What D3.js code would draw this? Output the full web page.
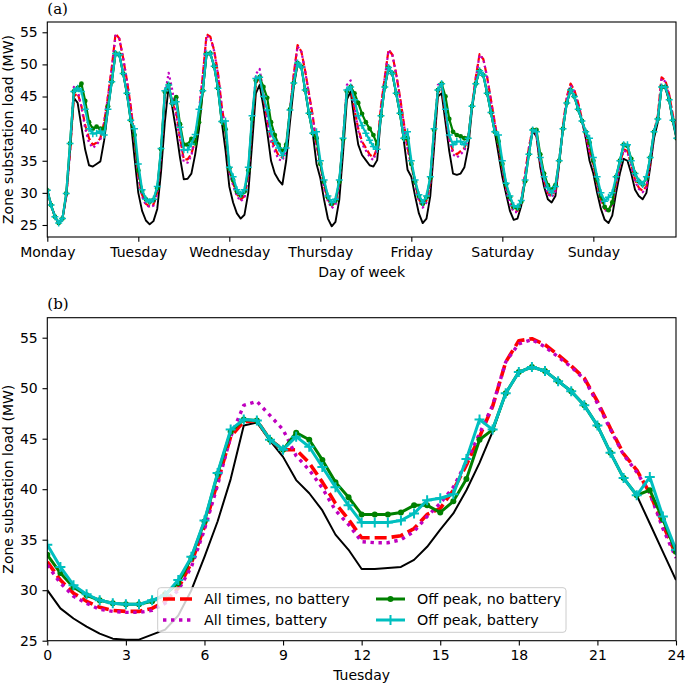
<!DOCTYPE html>
<html>
<head>
<meta charset="utf-8">
<script src="https://cdn.jsdelivr.net/npm/d3@7/dist/d3.min.js"></script>
<style>
  body { margin: 0; background: #fff; }
  svg { display: block; font-family: "DejaVu Sans", sans-serif; }
</style>
</head>
<body>
<div class="canvas"></div>
<script>
// Panel (a): hourly load over the week, Monday 00:00 onwards (MW)
const baseWeek = [
  30.4, 28.1, 26.3, 25.3, 26.0, 29.5, 36.5, 44.8, 44.0, 40.3, 36.7, 34.3, 34.1, 34.5, 34.9, 38.2, 42.9, 47.3, 51.7, 51.5, 48.6, 45.5, 41.3, 35.5,
  30.0, 27.2, 25.7, 25.1, 25.6, 27.5, 33.3, 41.0, 46.6, 43.2, 39.6, 35.5, 32.1, 32.2, 33.0, 36.0, 39.9, 45.7, 51.6, 51.7, 49.7, 46.3, 41.1, 36.6,
  31.0, 28.5, 26.8, 26.0, 26.6, 30.0, 37.5, 45.5, 46.8, 43.4, 39.5, 35.0, 33.0, 32.0, 31.3, 35.0, 41.0, 46.5, 50.0, 49.6, 46.0, 42.4, 39.3, 34.5,
  32.3, 28.9, 26.0, 24.8, 25.5, 28.9, 36.2, 44.5, 45.8, 41.3, 37.5, 35.9, 35.1, 34.3, 34.1, 35.1, 41.9, 46.5, 49.4, 48.4, 45.5, 42.4, 38.2, 33.6,
  32.5, 29.5, 26.8, 25.3, 26.0, 29.5, 37.0, 45.0, 45.5, 41.0, 36.5, 33.0, 32.8, 33.0, 34.0, 37.0, 43.0, 47.0, 49.0, 48.3, 45.5, 42.5, 39.5, 36.0,
  32.5, 29.8, 27.2, 25.8, 26.0, 28.0, 32.0, 36.5, 39.6, 38.8, 34.0, 31.0, 29.0, 28.5, 29.5, 34.5, 40.0, 44.0, 46.0, 45.0, 43.0, 41.2, 38.5, 35.0,
  33.0, 30.0, 27.5, 25.8, 25.3, 26.5, 30.0, 33.0, 35.3, 35.0, 33.0, 30.5, 29.5, 29.0, 30.0, 34.0, 38.5, 41.0, 46.5, 46.3, 44.3, 41.0, 38.2
];
const allNoBattWeek = [
  30.4, 28.1, 26.3, 25.3, 26.0, 29.5, 36.5, 45.0, 45.5, 43.5, 40.5, 38.5, 37.5, 37.8, 38.5, 41.0, 45.0, 49.5, 54.8, 54.0, 51.0, 47.5, 43.5, 38.5,
  32.8, 29.7, 28.3, 27.9, 28.2, 30.2, 36.3, 45.2, 46.8, 43.9, 42.6, 38.6, 35.2, 35.2, 36.1, 38.1, 42.4, 48.2, 54.7, 54.3, 52.2, 48.7, 43.5, 39.6,
  33.5, 31.5, 29.8, 29.0, 29.5, 33.0, 41.0, 47.0, 48.0, 45.0, 41.5, 38.5, 37.0, 35.8, 35.5, 37.0, 43.0, 48.5, 53.0, 52.0, 49.0, 45.5, 42.0, 37.5,
  34.5, 31.0, 29.0, 28.0, 28.5, 31.5, 38.5, 46.0, 46.5, 43.0, 40.0, 38.0, 37.0, 36.0, 35.5, 37.0, 43.5, 48.0, 52.3, 51.5, 48.5, 45.0, 41.0, 37.0,
  34.5, 31.5, 29.0, 28.0, 28.8, 31.8, 39.0, 45.5, 46.5, 42.5, 38.5, 36.5, 36.0, 36.5, 37.0, 38.5, 43.5, 48.0, 51.6, 50.8, 48.0, 44.5, 41.0, 37.5,
  34.0, 30.8, 28.5, 27.2, 27.2, 28.8, 33.0, 37.0, 40.0, 39.2, 35.0, 32.0, 30.0, 29.5, 30.3, 35.0, 40.5, 45.0, 47.0, 46.0, 44.0, 41.5, 39.0, 36.5,
  34.5, 31.5, 29.0, 27.5, 27.3, 28.3, 31.5, 34.5, 36.8, 36.5, 34.5, 32.0, 30.8, 30.3, 31.0, 35.0, 39.5, 42.0, 48.0, 47.5, 45.3, 42.0, 39.0
];
const allBattWeek = [
  30.4, 28.1, 26.3, 25.3, 26.0, 29.5, 36.5, 46.5, 46.0, 43.3, 40.0, 37.8, 37.0, 37.5, 38.3, 41.0, 45.0, 49.3, 54.5, 54.0, 51.0, 47.5, 43.3, 38.3,
  32.5, 29.4, 28.1, 27.8, 28.0, 30.0, 36.0, 45.2, 48.7, 45.9, 41.9, 37.9, 34.8, 34.7, 35.8, 38.6, 42.7, 48.3, 54.4, 54.1, 52.1, 48.5, 43.4, 39.6,
  33.2, 31.2, 29.5, 28.7, 29.2, 32.7, 40.7, 48.5, 49.3, 45.5, 41.2, 38.0, 36.5, 35.2, 35.0, 36.7, 43.0, 48.3, 52.8, 52.0, 49.0, 45.3, 41.8, 37.3,
  34.2, 30.7, 28.7, 27.6, 28.2, 31.2, 38.2, 46.8, 47.5, 43.5, 39.7, 37.6, 36.6, 35.6, 35.1, 36.8, 43.3, 48.0, 52.2, 51.5, 48.5, 44.8, 40.8, 36.8,
  34.2, 31.2, 28.7, 27.7, 28.5, 31.5, 38.7, 46.8, 47.2, 42.8, 38.2, 36.0, 35.5, 36.0, 36.6, 38.3, 43.5, 47.8, 51.5, 50.8, 48.0, 44.3, 40.8, 37.3,
  33.8, 30.6, 28.3, 27.0, 27.0, 28.6, 32.8, 37.0, 40.0, 39.0, 34.8, 31.8, 29.8, 29.3, 30.1, 34.8, 40.3, 44.8, 46.8, 45.8, 43.8, 41.3, 38.8, 36.3,
  34.3, 31.3, 28.8, 27.3, 27.1, 28.1, 31.3, 34.3, 36.6, 36.3, 34.3, 31.8, 30.6, 30.1, 30.8, 34.8, 39.3, 41.8, 47.8, 47.3, 45.1, 41.8, 38.8
];
const offNoBattWeek = [
  30.4, 28.1, 26.3, 25.3, 26.0, 29.9, 37.7, 45.8, 46.3, 47.0, 44.3, 41.0, 40.0, 40.3, 40.0, 40.0, 43.5, 47.3, 51.7, 51.5, 48.6, 45.5, 41.3, 39.0,
  33.5, 30.3, 29.0, 28.6, 28.9, 30.7, 36.8, 45.7, 46.8, 43.9, 44.9, 40.7, 37.5, 37.5, 38.4, 37.7, 41.0, 45.9, 51.6, 51.7, 49.7, 46.3, 41.1, 39.9,
  33.8, 32.0, 30.2, 29.6, 30.2, 33.5, 41.5, 47.5, 48.0, 46.5, 44.8, 41.0, 39.0, 37.5, 36.5, 37.5, 43.0, 47.1, 50.2, 49.6, 46.0, 42.4, 39.3, 38.5,
  34.5, 31.7, 29.3, 28.3, 28.8, 31.7, 38.3, 45.8, 46.5, 45.5, 44.0, 42.3, 41.0, 40.0, 39.0, 37.5, 42.0, 46.5, 49.5, 48.6, 45.5, 42.4, 38.5, 38.5,
  34.5, 31.7, 29.5, 28.3, 29.3, 32.3, 39.8, 46.0, 47.0, 45.0, 41.5, 39.5, 39.0, 38.8, 38.5, 38.5, 43.5, 47.0, 49.0, 48.3, 45.5, 42.5, 39.5, 38.0,
  34.5, 31.3, 29.3, 27.8, 27.6, 28.6, 31.8, 36.0, 39.8, 39.8, 36.0, 33.0, 31.2, 30.5, 31.2, 35.0, 40.0, 44.0, 46.0, 45.0, 43.0, 41.2, 39.5, 37.8,
  35.0, 32.0, 29.5, 27.8, 27.3, 28.5, 32.5, 35.0, 37.5, 37.3, 35.3, 33.0, 31.8, 31.3, 32.3, 35.5, 39.5, 41.5, 46.5, 46.5, 44.5, 41.3, 38.5
];
const offBattWeek = [
  30.4, 28.1, 26.3, 25.3, 26.0, 29.9, 37.7, 45.8, 46.3, 45.8, 43.0, 40.0, 39.2, 39.3, 39.6, 39.0, 43.0, 47.3, 51.7, 51.5, 48.6, 45.5, 41.3, 40.0,
  34.5, 30.5, 29.0, 28.6, 29.0, 31.0, 36.9, 45.9, 46.8, 43.9, 44.2, 40.2, 36.7, 36.7, 37.6, 39.1, 43.0, 45.9, 51.6, 51.7, 49.7, 46.3, 41.1, 41.2,
  34.0, 32.5, 30.5, 29.8, 30.5, 34.0, 42.0, 47.8, 48.0, 45.0, 42.9, 39.5, 38.0, 37.0, 35.8, 37.0, 42.9, 47.1, 50.2, 49.6, 46.0, 42.4, 39.3, 39.5,
  35.0, 32.0, 29.5, 28.5, 29.0, 32.0, 38.5, 46.0, 46.5, 44.5, 42.0, 40.5, 39.3, 38.2, 37.2, 36.8, 42.0, 46.5, 49.5, 48.6, 45.5, 42.4, 38.5, 39.5,
  35.0, 32.0, 29.7, 28.5, 29.5, 32.5, 40.0, 46.0, 47.0, 43.0, 39.0, 37.5, 38.0, 38.0, 37.5, 38.5, 43.5, 47.0, 49.0, 48.3, 45.5, 42.5, 39.5, 39.0,
  35.0, 31.5, 29.5, 28.0, 27.8, 28.8, 32.0, 36.0, 39.8, 39.5, 35.5, 32.5, 30.8, 30.0, 31.0, 35.0, 40.0, 44.0, 46.0, 45.0, 43.0, 41.2, 39.5, 38.5,
  35.5, 32.5, 30.0, 28.7, 29.3, 30.0, 32.5, 35.0, 37.5, 37.5, 35.0, 33.0, 31.8, 31.3, 32.5, 35.5, 39.5, 41.5, 46.5, 46.5, 44.5, 41.3, 38.5
];
const dayLabels = ["Monday", "Tuesday", "Wednesday", "Thursday", "Friday", "Saturday", "Sunday"];

// Panel (b): Tuesday, half-hourly from 00:00 to 24:00 (MW)
const baseTue = [30.0, 28.2, 27.2, 26.4, 25.7, 25.2, 25.1, 25.1, 25.6, 26.1, 27.5, 30.0, 33.3, 36.8, 41.0, 46.3, 46.6,
  44.8, 43.2, 40.9, 39.6, 37.9, 35.5, 34.0, 32.1, 32.1, 32.2, 32.3, 33.0, 34.3, 36.0, 37.6, 39.9, 42.6, 45.7,
  49.5, 51.6, 52.1, 51.7, 50.7, 49.7, 48.3, 46.3, 43.6, 41.1, 39.4, 36.6, 33.8, 31.0];
const allNoBattTue = [32.8, 31.0, 29.7, 28.9, 28.3, 28.0, 27.9, 27.9, 28.2, 28.9, 30.2, 32.7, 36.3, 40.7, 45.2, 46.7, 46.8,
  44.9, 43.9, 43.9, 42.6, 40.7, 38.6, 37.0, 35.2, 35.2, 35.2, 35.4, 36.1, 37.5, 38.1, 39.9, 42.4, 45.2, 48.2,
  52.6, 54.7, 54.9, 54.3, 53.3, 52.2, 51.0, 48.7, 46.0, 43.5, 41.9, 39.6, 36.5, 33.5];
const allBattTue = [32.5, 30.7, 29.4, 28.7, 28.1, 27.9, 27.8, 27.8, 28.0, 28.7, 30.0, 32.3, 36.0, 40.4, 45.2, 48.3, 48.7,
  47.3, 45.9, 43.3, 41.9, 40.1, 37.9, 36.5, 34.8, 34.7, 34.7, 35.0, 35.8, 37.3, 38.6, 40.2, 42.7, 45.5, 48.3,
  52.6, 54.4, 54.8, 54.1, 53.1, 52.1, 50.9, 48.5, 45.9, 43.4, 41.7, 39.6, 36.1, 33.2];
const offNoBattTue = [33.5, 31.7, 30.3, 29.5, 29.0, 28.7, 28.6, 28.6, 28.9, 29.6, 30.7, 33.2, 36.8, 41.5, 45.7, 46.9, 46.8,
  44.9, 43.9, 45.6, 44.9, 42.9, 40.7, 39.2, 37.5, 37.5, 37.5, 37.7, 38.4, 38.4, 37.7, 38.8, 41.0, 44.9, 45.9,
  49.5, 51.6, 52.1, 51.7, 50.7, 49.7, 48.3, 46.3, 43.6, 41.1, 39.4, 39.9, 37.0, 33.8];
const offBattTue = [34.5, 32.3, 30.5, 29.6, 29.0, 28.7, 28.6, 28.6, 29.0, 29.5, 31.0, 33.3, 36.9, 41.6, 45.9, 46.9, 46.8,
  44.9, 43.9, 45.2, 44.2, 42.2, 40.2, 38.4, 36.7, 36.7, 36.7, 36.9, 37.6, 38.9, 39.1, 39.5, 43.0, 46.9, 45.9,
  49.5, 51.6, 52.1, 51.7, 50.7, 49.7, 48.3, 46.3, 43.6, 41.1, 39.4, 41.2, 37.3, 34.0];
const hourTicks = [0, 3, 6, 9, 12, 15, 18, 21, 24];
const loadTicks = [25, 30, 35, 40, 45, 50, 55];
const legendLabels = ["All times, no battery", "All times, battery", "Off peak, no battery", "Off peak, battery"];

const width = 685, height = 684;
const fontSize = "14px";

const svg = d3.select(".canvas")
    .append("svg")
    .attr("width", width)
    .attr("height", height);

// Scales
const xA = d3.scaleLinear().domain([0, 165.8]).range([47.3, 676]);
const yA = d3.scaleLinear().domain([23.13, 56.6]).range([237, 22]);
const xB = d3.scaleLinear().domain([0, 24]).range([47.3, 676]);
const yB = d3.scaleLinear().domain([25, 56.98]).range([640.7, 317.7]);

// Line styles for both panels (thin = panel a)
function lineStyles(thin) {
    return [
        { color: "#000000", width: thin ? 1.9 : 2, dash: null, marker: null },
        { color: "#ff0000", width: thin ? 2.2 : 3.6, dash: thin ? "7,3" : "12,5", marker: null },
        { color: "#bf00bf", width: thin ? 2.2 : 3.4, dash: thin ? "2.2,3" : "3.4,4.6", marker: null },
        { color: "#008000", width: thin ? 2.2 : 3, dash: null, marker: "dot" },
        { color: "#00bfbf", width: thin ? 2.2 : 3, dash: null, marker: "plus" }
    ];
}

function drawPanel(cfg) {
    const g = svg.append("g");
    const [x0, x1] = cfg.x.range();
    const [y1, y0] = cfg.y.range();

    g.append("clipPath")
        .attr("id", cfg.id)
        .append("rect")
        .attr("x", x0).attr("y", y0)
        .attr("width", x1 - x0).attr("height", y1 - y0);

    const plot = g.append("g").attr("clip-path", `url(#${cfg.id})`);
    const styles = lineStyles(cfg.thin);

    cfg.series.forEach((values, i) => {
        const st = styles[i];
        const pts = values.map((v, j) => [cfg.x(cfg.xAt(j)), cfg.y(v)]);
        const line = d3.line();
        plot.append("path")
            .attr("d", line(pts))
            .attr("fill", "none")
            .attr("stroke", st.color)
            .attr("stroke-width", st.width)
            .attr("stroke-linejoin", "round")
            .attr("stroke-dasharray", st.dash);

        if (st.marker === "dot") {
            plot.append("g").selectAll("circle")
                .data(pts)
                .enter().append("circle")
                .attr("cx", d => d[0])
                .attr("cy", d => d[1])
                .attr("r", cfg.thin ? 2.4 : 3)
                .attr("fill", st.color);
        } else if (st.marker === "plus") {
            const s = cfg.thin ? 3.5 : 5;
            plot.append("g").selectAll("path")
                .data(pts)
                .enter().append("path")
                .attr("d", d => `M${d[0] - s},${d[1]}H${d[0] + s}M${d[0]},${d[1] - s}V${d[1] + s}`)
                .attr("stroke", st.color)
                .attr("stroke-width", cfg.thin ? 1.5 : 2);
        }
    });

    // Axes
    const xAxis = g.append("g")
        .attr("transform", `translate(0,${y1})`)
        .call(d3.axisBottom(cfg.x)
            .tickValues(cfg.xTicks)
            .tickFormat(cfg.xFormat)
            .tickSize(4.8)
            .tickPadding(4.8)
            .tickSizeOuter(0));
    const yAxis = g.append("g")
        .attr("transform", `translate(${x0},0)`)
        .call(d3.axisLeft(cfg.y)
            .tickValues(loadTicks)
            .tickSize(4.8)
            .tickPadding(4.8)
            .tickSizeOuter(0));

    [xAxis, yAxis].forEach(a => {
        a.select(".domain").remove();
        a.selectAll("line").attr("stroke", "#000").attr("stroke-width", 1.1);
        a.selectAll("text")
            .attr("fill", "#000")
            .style("font-size", fontSize)
            .style("font-family", "DejaVu Sans");
    });

    // Frame
    g.append("rect")
        .attr("x", x0).attr("y", y0)
        .attr("width", x1 - x0).attr("height", y1 - y0)
        .attr("fill", "none")
        .attr("stroke", "#000")
        .attr("stroke-width", 1.1);

    // Labels
    g.append("text")
        .attr("x", (x0 + x1) / 2)
        .attr("y", cfg.xLabelY)
        .attr("text-anchor", "middle")
        .style("font-size", fontSize)
        .text(cfg.xLabel);

    g.append("text")
        .attr("transform", `translate(13,${(y0 + y1) / 2}) rotate(-90)`)
        .attr("text-anchor", "middle")
        .style("font-size", fontSize)
        .text("Zone substation load (MW)");

    g.append("text")
        .attr("x", x0)
        .attr("y", y0 - 8.3)
        .style("font-family", "DejaVu Serif")
        .style("font-size", "15px")
        .text(cfg.letter);
}

drawPanel({
    id: "clipA", x: xA, y: yA, thin: true,
    series: [baseWeek, allNoBattWeek, allBattWeek, offNoBattWeek, offBattWeek],
    xAt: j => j,
    xTicks: dayLabels.map((d, i) => i * 24),
    xFormat: (d, i) => dayLabels[i],
    xLabel: "Day of week", xLabelY: 277, letter: "(a)"
});

drawPanel({
    id: "clipB", x: xB, y: yB, thin: false,
    series: [baseTue, allNoBattTue, allBattTue, offNoBattTue, offBattTue],
    xAt: j => j / 2,
    xTicks: hourTicks,
    xFormat: d => d,
    xLabel: "Tuesday", xLabelY: 680, letter: "(b)"
});

// Legend for panel (b)
const legend = svg.append("g");
legend.append("rect")
    .attr("x", 157.7).attr("y", 587.7)
    .attr("width", 408.3).attr("height", 44.6)
    .attr("rx", 3)
    .attr("fill", "#fff")
    .attr("fill-opacity", 0.8)
    .attr("stroke", "#cccccc")
    .attr("stroke-width", 1);

const legendStyles = lineStyles(false).slice(1);
const legendPos = [[163, 599], [163, 620], [376, 599], [376, 620]];
legendLabels.forEach((label, i) => {
    const st = legendStyles[i];
    const [lx, ly] = legendPos[i];
    legend.append("line")
        .attr("x1", lx).attr("x2", lx + 29)
        .attr("y1", ly).attr("y2", ly)
        .attr("stroke", st.color)
        .attr("stroke-width", st.width)
        .attr("stroke-dasharray", st.dash);
    if (st.marker === "dot") {
        legend.append("circle")
            .attr("cx", lx + 14.5).attr("cy", ly).attr("r", 3)
            .attr("fill", st.color);
    } else if (st.marker === "plus") {
        legend.append("path")
            .attr("d", `M${lx + 9.5},${ly}H${lx + 19.5}M${lx + 14.5},${ly - 5}V${ly + 5}`)
            .attr("stroke", st.color)
            .attr("stroke-width", 2);
    }
    legend.append("text")
        .attr("x", lx + 41)
        .attr("y", ly)
        .attr("dy", "0.35em")
        .style("font-size", "14.3px")
        .text(label);
});
</script>
</body>
</html>
